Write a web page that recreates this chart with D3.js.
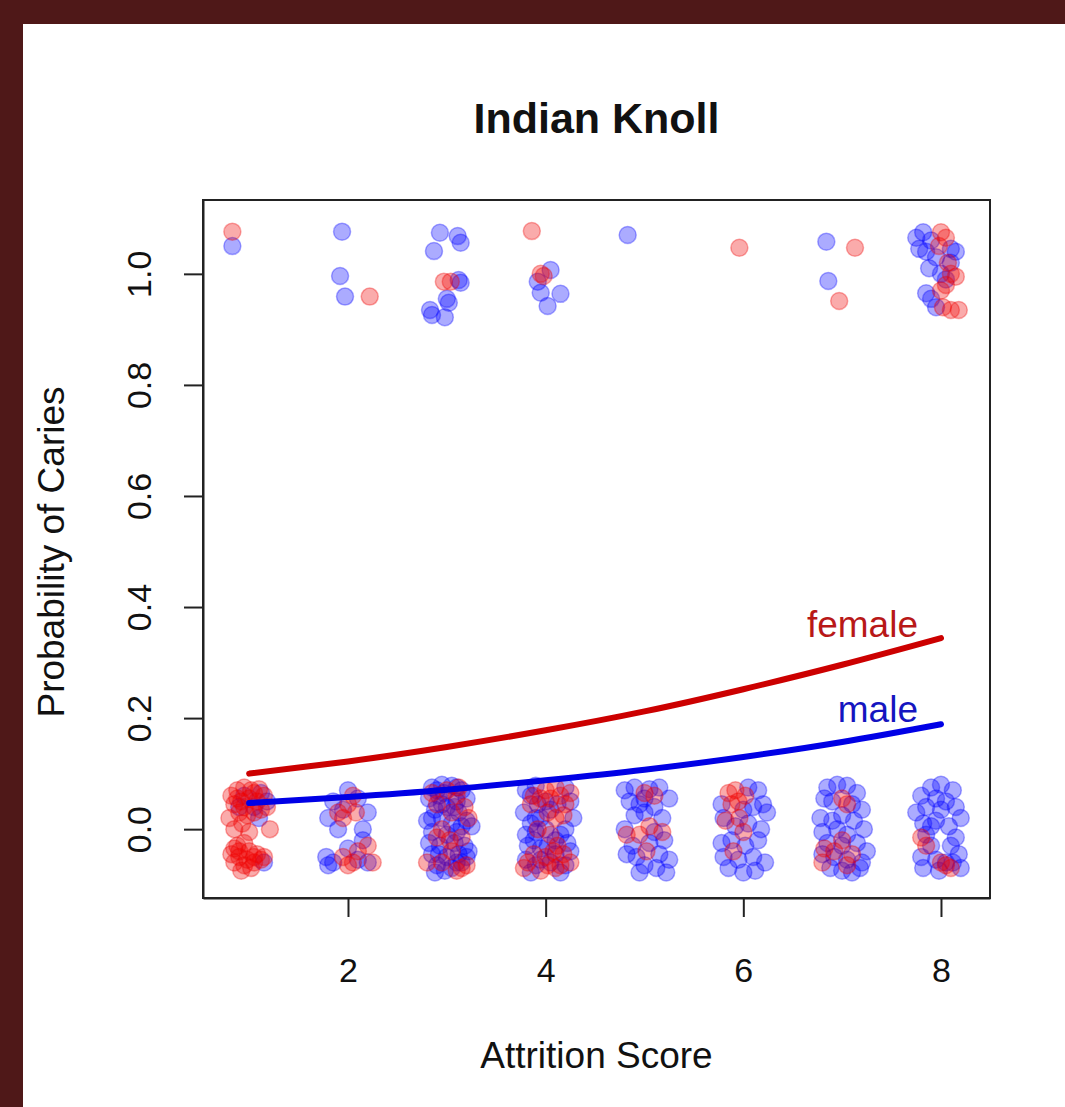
<!DOCTYPE html>
<html>
<head>
<meta charset="utf-8">
<script src="https://cdn.jsdelivr.net/npm/d3@7"></script>
<style>
  html, body { margin: 0; padding: 0; background: #4f1818; }
  svg { display: block; }
  text { font-family: "Liberation Sans", Arial, Helvetica, sans-serif; }
</style>
</head>
<body>
<script>
// Jittered observations: [attrition score (jittered), caries 0/1 (jittered)]
const femalePoints = [
  // caries = 1
  [0.83,1.076],[2.22,0.959],[2.97,0.986],[3.04,0.986],[3.86,1.077],[3.95,1.0],[3.98,0.996],
  [5.96,1.047],[7.13,1.047],[6.97,0.951],
  [8.0,1.075],[8.05,1.065],[7.98,1.05],[8.1,1.0],[8.15,0.995],[8.05,0.98],[8.0,0.97],
  [8.02,0.94],[8.1,0.935],[8.18,0.935],[8.07,1.02],
  // caries = 0, score 1
  [0.82,0.06],[0.88,0.07],[0.95,0.075],[1.02,0.07],[1.1,0.072],[1.15,0.06],[0.85,0.045],
  [0.92,0.05],[1.0,0.055],[1.08,0.05],[1.18,0.04],[0.8,0.02],[0.9,0.03],[0.98,0.025],
  [1.05,0.03],[0.85,0.0],[0.93,0.01],[1.0,-0.005],[1.21,0.0],[0.88,-0.03],[0.95,-0.025],
  [0.82,-0.045],[0.9,-0.05],[1.0,-0.04],[1.08,-0.045],[1.15,-0.05],[0.85,-0.06],
  [0.95,-0.065],[1.05,-0.06],[1.12,-0.055],[0.92,-0.075],[1.02,-0.07],[0.98,-0.055],
  [0.88,0.055],[1.05,0.065],[1.12,0.035],[0.95,0.04],[0.9,-0.04],[1.05,-0.05],[0.85,-0.035],
  // score 2
  [2.0,0.045],[1.95,0.02],[2.08,0.03],[2.05,0.06],[1.9,0.03],
  [2.2,-0.03],[2.25,-0.06],[2.05,-0.06],[2.1,-0.04],[1.95,-0.05],[2.0,-0.065],
  // score 3
  [3.0,0.07],[3.1,0.06],[3.18,0.04],[2.9,0.045],[3.05,0.03],[2.95,0.0],[3.15,-0.015],
  [2.9,-0.015],[3.05,-0.04],[3.2,-0.065],[3.15,-0.07],[2.95,-0.06],[3.22,0.02],[2.8,-0.06],
  [3.12,0.075],[2.85,0.065],[3.03,-0.02],[3.1,-0.075],
  // score 4
  [3.88,0.06],[4.0,0.07],[4.1,0.075],[4.15,0.06],[4.05,0.055],[4.2,0.045],[3.95,0.055],
  [4.1,0.02],[4.18,0.025],[4.05,-0.01],[4.12,-0.03],[4.08,-0.04],[4.18,-0.045],[3.88,-0.045],
  [4.0,-0.05],[3.95,-0.075],[4.1,-0.07],[3.78,-0.07],[4.25,-0.06],[3.85,0.045],
  [4.02,0.03],[3.92,0.0],[4.25,0.065],[4.02,-0.065],[3.82,-0.06],[4.15,-0.065],
  // score 5
  [5.0,0.065],[5.1,0.06],[4.82,-0.01],[5.18,-0.005],[5.05,0.005],[4.95,-0.01],[5.02,-0.04],
  // score 6
  [5.85,0.065],[5.92,0.07],[5.95,0.05],[5.88,0.045],[6.02,0.06],[5.82,0.015],[5.9,-0.04],
  [6.0,-0.005],[5.96,0.02],
  // score 7
  [7.0,0.055],[7.05,0.045],[6.82,-0.035],[6.8,-0.06],[7.0,-0.02],[7.1,-0.045],[6.92,-0.04],
  [7.05,-0.065],
  // score 8
  [7.8,-0.015],[7.85,-0.03],[8.05,-0.065],[8.1,-0.07],[8.0,-0.06]
];

const malePoints = [
  // caries = 1
  [0.83,1.05],[1.94,1.076],[1.92,0.996],[1.97,0.959],
  [2.93,1.074],[2.87,1.041],[3.11,1.068],[3.14,1.056],[3.12,0.989],[3.14,0.984],
  [3.0,0.955],[2.83,0.935],[2.85,0.926],[2.98,0.922],[3.02,0.948],
  [4.05,1.007],[3.92,0.986],[3.95,0.966],[4.15,0.964],[4.02,0.942],
  [4.83,1.07],[6.84,1.058],[6.86,0.987],
  [7.75,1.065],[7.82,1.075],[7.9,1.06],[7.85,1.04],[7.78,1.045],[7.95,1.03],[8.1,1.045],
  [8.15,1.04],[7.88,1.01],[8.0,1.0],[8.05,0.99],[7.85,0.965],[7.9,0.955],[7.95,0.94],[8.1,1.02],
  // caries = 0, score 1
  [1.12,0.065],[1.18,0.05],[0.9,0.04],[1.05,0.04],[0.95,0.06],[1.15,-0.06],[1.1,0.02],
  // score 2
  [2.0,0.07],[1.85,0.05],[2.1,0.055],[2.2,0.03],[1.8,0.02],[1.95,0.035],[2.15,0.0],[1.9,0.0],
  [1.78,-0.05],[1.85,-0.06],[1.8,-0.065],[2.0,-0.035],[2.1,-0.055],[2.2,-0.06],[2.15,-0.02],
  // score 3
  [2.85,0.075],[2.95,0.08],[3.05,0.078],[3.15,0.07],[2.82,0.055],[2.92,0.06],[3.1,0.05],
  [3.2,0.055],[2.88,0.035],[3.0,0.04],[3.12,0.03],[2.8,0.015],[2.95,0.02],[3.05,0.01],
  [3.2,0.015],[2.85,-0.005],[3.0,-0.01],[3.1,-0.005],[2.82,-0.025],[2.93,-0.03],[3.08,-0.025],
  [3.18,-0.03],[2.85,-0.045],[3.0,-0.05],[3.12,-0.045],[2.9,-0.065],[3.05,-0.07],[2.88,-0.078],
  [3.15,-0.06],[3.25,0.005],[3.22,-0.04],[2.97,0.065],
  [2.9,0.07],[3.1,0.075],[2.95,0.045],[3.08,0.04],[2.85,0.02],[3.15,0.005],[2.92,-0.045],
  [3.1,-0.06],[2.98,-0.075],[3.2,-0.05],
  // score 4
  [3.8,0.07],[3.9,0.078],[4.2,0.075],[4.25,0.05],[3.78,0.03],[3.85,0.01],[3.95,0.02],
  [4.05,0.035],[3.8,-0.01],[3.9,-0.005],[4.0,0.0],[4.2,0.0],[3.82,-0.03],[3.95,-0.035],
  [4.1,-0.02],[4.25,-0.04],[3.8,-0.055],[3.9,-0.065],[4.05,-0.06],[4.2,-0.065],[3.85,-0.078],
  [4.15,-0.078],[4.28,0.02],[3.92,0.045],
  [3.85,0.06],[4.0,0.05],[4.12,0.045],[3.9,0.02],[4.02,-0.03],[3.88,-0.02],[4.15,-0.01],
  [4.22,-0.025],[3.95,-0.055],[4.1,-0.045],
  // score 5
  [4.8,0.07],[4.9,0.075],[5.05,0.072],[5.15,0.075],[5.25,0.055],[4.85,0.05],[4.95,0.045],
  [5.1,0.04],[4.9,0.025],[5.0,0.03],[5.18,0.02],[4.8,0.0],[5.1,-0.005],[4.88,-0.03],
  [5.05,-0.025],[5.2,-0.02],[4.82,-0.045],[4.92,-0.05],[5.15,-0.045],[5.25,-0.055],
  [5.0,-0.065],[5.12,-0.07],[5.22,-0.078],[4.95,-0.078],[5.0,0.055],
  // score 6
  [6.05,0.075],[6.15,0.07],[6.2,0.045],[6.1,0.04],[6.0,0.035],[5.8,0.02],[5.92,0.005],
  [6.05,0.01],[6.18,0.0],[5.78,-0.025],[5.88,-0.02],[6.02,-0.03],[6.15,-0.02],[5.8,-0.05],
  [5.95,-0.055],[6.1,-0.05],[6.22,-0.06],[5.85,-0.07],[6.0,-0.078],[6.12,-0.075],[6.24,0.03],
  [5.78,0.045],
  // score 7
  [6.85,0.075],[6.95,0.08],[7.05,0.078],[7.15,0.065],[6.82,0.055],[6.9,0.05],[7.1,0.045],
  [7.2,0.035],[6.78,0.02],[6.9,0.015],[7.0,0.025],[7.12,0.015],[7.22,0.0],[6.8,-0.005],
  [6.95,0.0],[7.05,-0.01],[6.85,-0.025],[7.0,-0.03],[7.15,-0.025],[7.25,-0.04],[6.8,-0.045],
  [6.92,-0.05],[7.05,-0.055],[7.2,-0.06],[6.88,-0.07],[7.0,-0.075],[7.1,-0.078],[7.18,-0.07],
  // score 8
  [7.9,0.075],[8.0,0.08],[8.12,0.07],[7.8,0.06],[7.95,0.055],[8.05,0.05],[7.85,0.04],
  [8.0,0.035],[8.15,0.04],[8.2,0.02],[7.75,0.03],[7.82,0.01],[7.95,0.015],[8.08,0.005],
  [7.85,-0.01],[8.15,-0.015],[7.9,-0.03],[8.1,-0.03],[8.18,-0.045],[7.8,-0.05],[7.95,-0.055],
  [8.05,-0.06],[7.82,-0.07],[7.98,-0.075],[8.2,-0.07],[8.12,-0.06],[7.9,0.005]
];

// Fitted probability of caries at each attrition score
const scores = [1, 2, 3, 4, 5, 6, 7, 8];
const femaleFit = [0.100, 0.122, 0.148, 0.178, 0.212, 0.252, 0.296, 0.344];
const maleFit   = [0.047, 0.058, 0.071, 0.088, 0.107, 0.130, 0.157, 0.189];

const xTicks = [2, 4, 6, 8];
const yTicks = [0, 0.2, 0.4, 0.6, 0.8, 1.0];

const W = 1065, H = 1107;
const plot = { left: 203, right: 990, top: 200, bottom: 898 };
const tickFont = 34, labelFont = 37;

const svg = d3.select("body").append("svg")
  .attr("width", W).attr("height", H);

// frame
svg.append("rect").attr("width", W).attr("height", H).attr("fill", "#4f1818");
svg.append("rect").attr("x", 23).attr("y", 24)
  .attr("width", W - 23).attr("height", H - 24).attr("fill", "#ffffff");

const x = d3.scaleLinear().domain([0.533, 8.496]).range([plot.left, plot.right]);
const y = d3.scaleLinear().domain([-0.124, 1.133]).range([plot.bottom, plot.top]);

// points
const pts = svg.append("g");
function drawPoints(data, color) {
  pts.selectAll(null).data(data).enter().append("circle")
    .attr("cx", d => x(d[0]))
    .attr("cy", d => y(d[1]))
    .attr("r", 8.5)
    .attr("fill", color)
    .attr("fill-opacity", 0.33)
    .attr("stroke", color)
    .attr("stroke-opacity", 0.33)
    .attr("stroke-width", 1.5);
}
drawPoints(malePoints, "#0000ff");
drawPoints(femalePoints, "#f00000");

// fitted curves
const line = d3.line().x(d => x(d[0])).y(d => y(d[1])).curve(d3.curveNatural);
const femaleCol = "#cc0000", maleCol = "#0000e6";
svg.append("path").datum(scores.map((s, i) => [s, femaleFit[i]]))
  .attr("d", line).attr("fill", "none").attr("stroke", femaleCol)
  .attr("stroke-width", 6).attr("stroke-linecap", "round");
svg.append("path").datum(scores.map((s, i) => [s, maleFit[i]]))
  .attr("d", line).attr("fill", "none").attr("stroke", maleCol)
  .attr("stroke-width", 6).attr("stroke-linecap", "round");

svg.append("text").attr("x", x(8) - 23).attr("y", y(femaleFit[7]) - 1)
  .attr("text-anchor", "end").attr("font-size", labelFont).attr("fill", "#b81818")
  .text("female");
svg.append("text").attr("x", x(8) - 23).attr("y", y(maleFit[7]) - 2)
  .attr("text-anchor", "end").attr("font-size", labelFont).attr("fill", "#1515c0")
  .text("male");

// box
svg.append("rect").attr("x", plot.left).attr("y", plot.top)
  .attr("width", plot.right - plot.left).attr("height", plot.bottom - plot.top)
  .attr("fill", "none").attr("stroke", "#222").attr("stroke-width", 2);

// axes
const xAxis = svg.append("g").attr("transform", `translate(0,${plot.bottom})`)
  .call(d3.axisBottom(x).tickValues(xTicks).tickFormat(d3.format("d"))
    .tickSizeInner(19).tickSizeOuter(0).tickPadding(65));
const yAxis = svg.append("g").attr("transform", `translate(${plot.left},0)`)
  .call(d3.axisLeft(y).tickValues(yTicks).tickFormat(d3.format(".1f"))
    .tickSizeInner(19).tickSizeOuter(0));

[xAxis, yAxis].forEach(g => {
  g.select(".domain").attr("stroke", "#222").attr("stroke-width", 2);
  g.selectAll(".tick line").attr("stroke", "#222").attr("stroke-width", 2);
  g.selectAll(".tick text").attr("font-size", tickFont).attr("fill", "#111")
    .attr("font-family", "'Liberation Sans', Arial, sans-serif");
});
xAxis.selectAll(".tick text").attr("dy", "0");
// y tick labels read upwards, parallel to the axis
yAxis.selectAll(".tick text")
  .attr("transform", "rotate(-90)")
  .attr("text-anchor", "middle")
  .attr("x", 0).attr("dy", 0)
  .attr("y", -52);

// titles
svg.append("text").attr("x", (plot.left + plot.right) / 2).attr("y", 133)
  .attr("text-anchor", "middle").attr("font-size", 43).attr("font-weight", "bold")
  .attr("fill", "#111").text("Indian Knoll");
svg.append("text").attr("x", (plot.left + plot.right) / 2).attr("y", 1068)
  .attr("text-anchor", "middle").attr("font-size", labelFont).attr("fill", "#111")
  .text("Attrition Score");
svg.append("text")
  .attr("transform", `translate(64,${(plot.top + plot.bottom) / 2 + 3}) rotate(-90)`)
  .attr("text-anchor", "middle").attr("font-size", labelFont).attr("fill", "#111")
  .text("Probability of Caries");
</script>
</body>
</html>
